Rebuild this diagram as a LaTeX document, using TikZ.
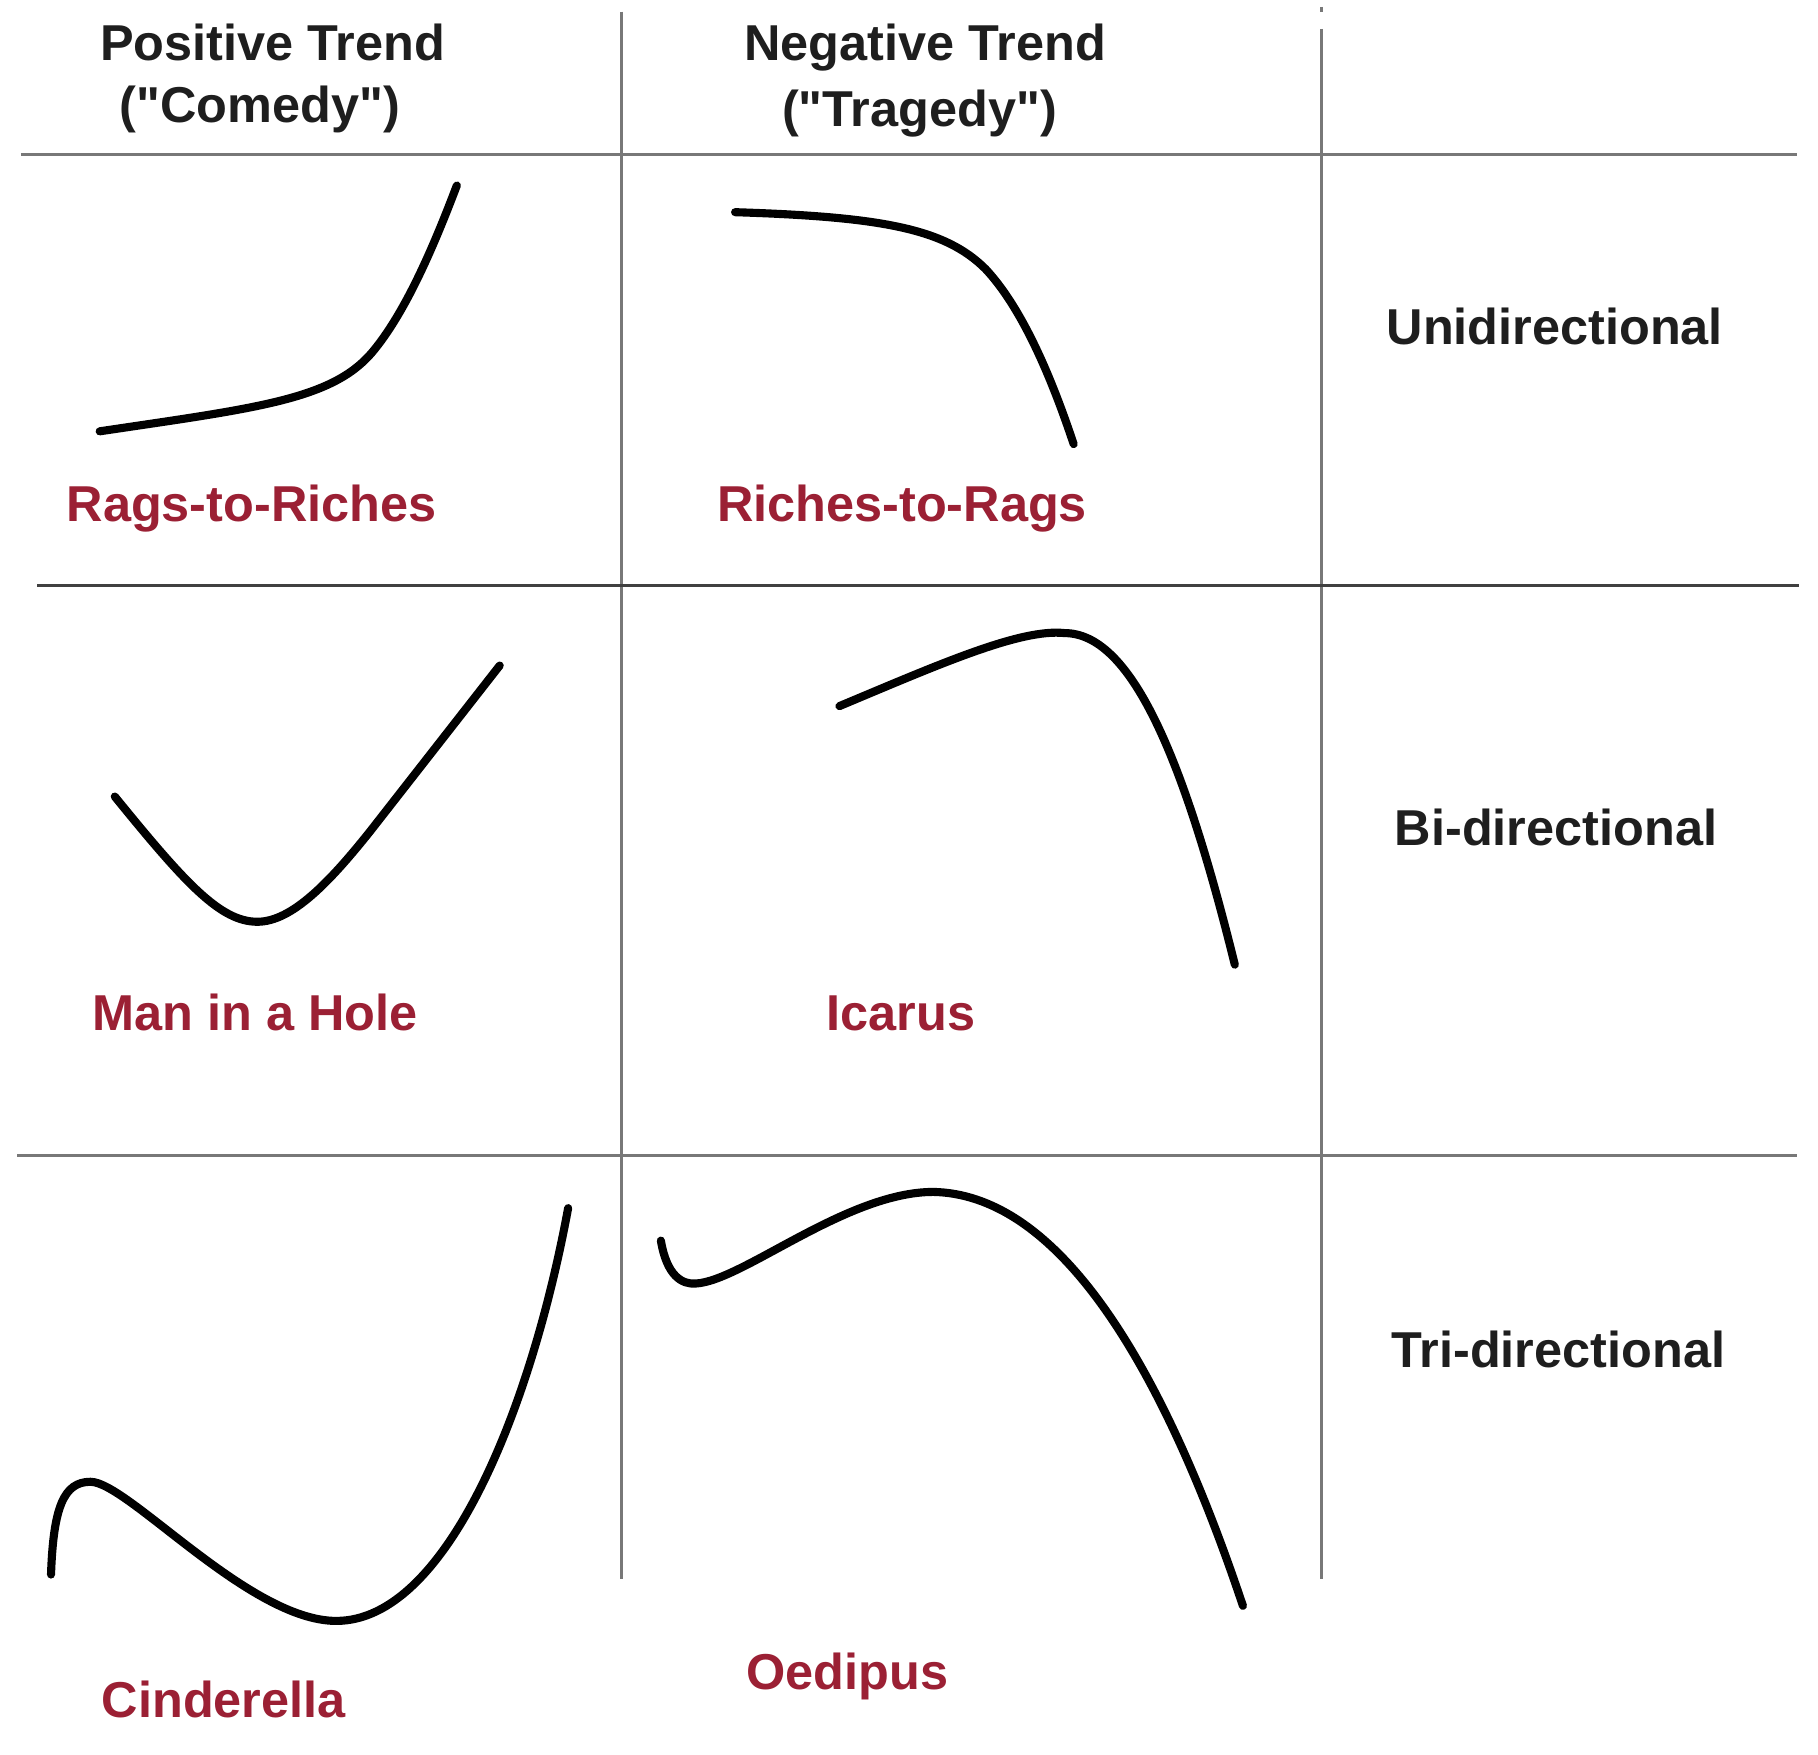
\documentclass[tikz,border=0pt]{standalone}
\usepackage{fontspec}
\setmainfont{Liberation Sans}[Ligatures=TeXOff]
\definecolor{labred}{RGB}{155,32,52}
\definecolor{headgray}{RGB}{30,30,30}
\definecolor{gridgray}{RGB}{120,120,120}
\begin{document}
\begin{tikzpicture}[x=1pt,y=-1pt,
  grid/.style={draw=gridgray,line width=2.6pt},
  griddark/.style={draw=black!75,line width=2pt},
  arc/.style={draw=black,line width=7pt,line cap=round,line join=round},
  head/.style={anchor=base,inner sep=0pt,text=headgray,font=\fontsize{43.5}{50}\selectfont\bfseries},
  lab/.style={anchor=base,inner sep=0pt,text=labred,font=\fontsize{43.5}{50}\selectfont\bfseries}]
\useasboundingbox[fill=white] (0,0) rectangle (1568,1513);
% grid
\draw[grid] (536,10) -- (536,1362);
\draw[grid] (1140,25) -- (1140,1362);
\draw[grid] (1140,6) -- (1140,10);
\draw[grid] (18,133) -- (1550,133);
\draw[griddark] (32,505) -- (1552,505);
\draw[grid] (15,997) -- (1550,997);
% headers
\node[head] (pt) at (235,52) {Positive Trend};
\node[head] (pc) at (224,106) {("Comedy")};
\node[head] (nt) at (798,52) {Negative Trend};
\node[head] (nc) at (793,109) {("Tragedy")};
\node[head] (uni) at (1341,297) {Unidirectional};
\node[head] (bi) at (1342,729) {Bi-directional};
\node[head] (tri) at (1344,1179) {Tri-directional};
% labels
\node[lab] (rr) at (217,450) {Rags-to-Riches};
\node[lab] (rg) at (778,450) {Riches-to-Rags};
\node[lab] (mh) at (220,889) {Man in a Hole};
\node[lab] (ic) at (777,889) {Icarus};
\node[lab] (ci) at (193,1481) {Cinderella};
\node[lab] (oe) at (731,1457) {Oedipus};
% curves
\draw[arc] (86,372) .. controls (220,352) and (285,345) .. (320,305)
  .. controls (350,270) and (375,210) .. (394,160);
\draw[arc] (634,183) .. controls (760,187) and (815,197) .. (850,232)
  .. controls (880,264) and (905,320) .. (926,383);
\draw[arc] (99,687) .. controls (160,762) and (190,795) .. (222,795)
  .. controls (252,795) and (285,760) .. (320,716) -- (431,574);
\draw[arc] (724,609) .. controls (810,573) and (880,542) .. (918,546)
  .. controls (975,546) and (1020,650) .. (1065,832);
\draw[arc] (44,1358) .. controls (46,1300) and (55,1278) .. (78,1278)
  .. controls (110,1278) and (215,1398) .. (290,1398)
  .. controls (385,1398) and (458,1215) .. (490,1042);
\draw[arc] (570,1070) .. controls (575,1100) and (588,1108) .. (600,1107)
  .. controls (640,1105) and (730,1028) .. (805,1028)
  .. controls (905,1030) and (995,1155) .. (1072,1385);
\end{tikzpicture}
\end{document}
